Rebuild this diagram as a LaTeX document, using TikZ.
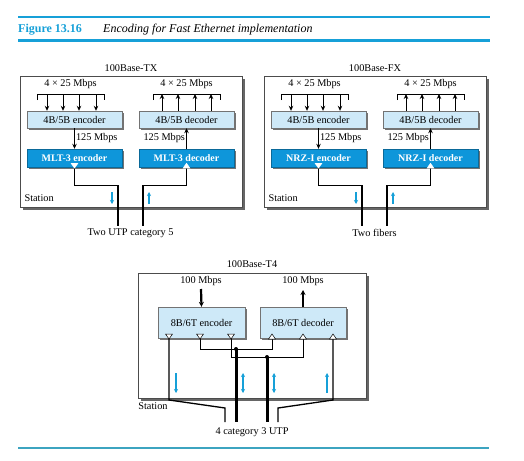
\documentclass[tikz,border=0pt]{standalone}
\usepackage{fontspec}
\setmainfont{Liberation Serif}
\usetikzlibrary{arrows.meta,shadows}
\definecolor{figblue}{RGB}{22,160,216}
\definecolor{boxlight}{RGB}{206,233,248}
\definecolor{boxdark}{RGB}{14,150,218}
\definecolor{ruleteal}{RGB}{60,164,192}
\tikzset{
	station/.style={draw=black!70, fill=white, line width=.6pt, minimum width=222pt, minimum height=131pt,
		drop shadow={shadow xshift=2.5pt, shadow yshift=-2.5pt, fill=black!60, opacity=1}},
	lightbox/.style={draw=black!55, fill=boxlight, line width=.4pt, minimum width=95pt, minimum height=17pt, inner sep=1pt,
		drop shadow={shadow xshift=1.5pt, shadow yshift=-1.5pt, fill=black!55, opacity=1}},
	darkbox/.style={lightbox, fill=boxdark, draw=boxdark!70!black, text=white, font=\bfseries, minimum height=18pt},
	arr/.style={line width=1pt, -{Stealth[length=5pt,width=4.5pt]}},
	thickarr/.style={line width=2.2pt, -{Stealth[length=5pt,width=5pt]}},
	bluearr/.style={figblue, line width=1.5pt, -{Stealth[length=4pt,width=4pt]}},
	bluedbl/.style={figblue, line width=1.5pt, {Stealth[length=4pt,width=4pt]}-{Stealth[length=4pt,width=4pt]}},
	wire/.style={line width=1.3pt},
	thinwire/.style={line width=.7pt},
	thickwire/.style={line width=3pt},
	tridown/.pic={\path[pic actions, fill=white] (-3.5,-4) -- (3.5,-4) -- (0,1) -- cycle;},
	triup/.pic={\path[pic actions, fill=white] (-3.5,1) -- (3.5,1) -- (0,-4) -- cycle;}
}
\begin{document}
\begin{tikzpicture}[x=1pt, y=-1pt, font=\fontsize{10.3}{12}\selectfont]
	\useasboundingbox (0,0) rectangle (524,460);
	%Caption and rules
	\draw[figblue, line width=1.5pt] (18,17) -- (490,17);
	\node[anchor=base west, inner sep=0pt, text=figblue, font=\fontsize{12}{14}\selectfont\bfseries] (fignum) at (18,33) {Figure 13.16};
	\node[anchor=base west, inner sep=0pt, font=\fontsize{12}{14}\selectfont\itshape] (figtitle) at (103,33) {Encoding for Fast Ethernet implementation};
	\draw[figblue, line width=3pt] (18,41) -- (490,41);
	\draw[ruleteal, line width=2.5pt] (18,448) -- (489,448);
	%100Base-TX and 100Base-FX
	\foreach \dx/\tag/\code/\cable in {0/TX/MLT-3/Two UTP category 5, 244/FX/NRZ-I/Two fibers}
	{
	\begin{scope}[xshift=\dx]
		\node[station] (st\tag) at (131,141.5) {};
		\node (title\tag) at (131,68) {100Base-\tag};
		\node[anchor=west] (lab\tag) at (21,198) {Station};
		\node[lightbox] (enc\tag) at (74.5,119.5) {4B/5B encoder};
		\node[darkbox] (lineenc\tag) at (74.5,158) {\code{} encoder};
		\node[lightbox] (dec\tag) at (186.5,119.5) {4B/5B decoder};
		\node[darkbox] (linedec\tag) at (186.5,158) {\code{} decoder};
		\draw[arr] (enc\tag) -- node[right, inner sep=1pt] {125 Mbps} (lineenc\tag);
		\draw[arr] (linedec\tag) -- node[left, inner sep=1pt] {125 Mbps} (dec\tag);
		%parallel inputs and outputs
		\node (inrate\tag) at (70.5,84) {4 × 25 Mbps};
		\node (outrate\tag) at (186.5,84) {4 × 25 Mbps};
		\draw[line width=.5pt] (37,100) -- (37,94) -- (104,94) -- (104,100);
		\draw[line width=.5pt] (153,100) -- (153,94) -- (220,94) -- (220,100);
		\foreach \x in {47,63,79,96}
		{\draw[arr] (\x,94) -- (\x,94 |- enc\tag.north);}
		\foreach \x in {162,178,195,211}
		{\draw[arr] (\x,94 |- dec\tag.north) -- (\x,94);}
		%cables
		\coordinate (cout\tag) at (118,226);
		\coordinate (cin\tag) at (143,226);
		\draw[wire] (lineenc\tag.south) -- ++(0,18) -| (cout\tag);
		\draw[wire] (linedec\tag.south) -- ++(0,18) -| (cin\tag);
		\pic[draw=white] at (lineenc\tag.south) {tridown};
		\pic[draw=white] at (linedec\tag.south) {triup};
		\draw[bluearr] (112,192) -- (112,204);
		\draw[bluearr] (149,204) -- (149,192);
		\node (cable\tag) at (130.5,233) {\cable};
	\end{scope}
	}
	%100Base-T4
	\node[station, minimum width=228pt, minimum height=125pt] (stT4) at (252,335.5) {};
	\node (titleT4) at (252,264) {100Base-T4};
	\node[lightbox, minimum width=87pt, minimum height=31pt] (encT4) at (201.5,322.5) {8B/6T encoder};
	\node[lightbox, minimum width=86pt, minimum height=31pt] (decT4) at (303,322.5) {8B/6T decoder};
	\node (inT4) at (201,281) {100 Mbps};
	\node (outT4) at (303,281) {100 Mbps};
	\draw[thickarr] (201,289) -- (encT4.north);
	\draw[thickarr] (decT4.north) -- (303,290);
	\foreach \i/\x in {1/169,2/200,3/231}
	{\coordinate (e\i) at (\x,338);}
	\foreach \i/\x in {1/272,2/303,3/333}
	{\coordinate (d\i) at (\x,338);}
	\coordinate (c1) at (225,422);
	\coordinate (c2) at (236,422);
	\coordinate (c3) at (267,422);
	\coordinate (c4) at (278,422);
	\draw[wire] (e1) -- (169,400) -- (225,408) -- (c1);
	\draw[wire] (d3) -- (333,400) -- (278,408) -- (c4);
	\draw[thinwire] (e2) -- (200,349) -| (d1);
	\draw[thinwire] (e3) -- (231,357) -| (d2);
	\draw[thickwire] (236,349) -- (c2);
	\draw[thickwire] (267,357) -- (c3);
	\fill (236,349) circle (2);
	\fill (267,357) circle (2);
	\foreach \i in {1,2,3}
	{\pic[draw=black, line width=.5pt] at (e\i) {tridown};
		\pic[draw=black, line width=.5pt] at (d\i) {triup};}
	\draw[bluearr] (176,373) -- (176,393);
	\draw[bluedbl] (243,373) -- (243,393);
	\draw[bluedbl] (274,373) -- (274,393);
	\draw[bluearr, line width=2.5pt] (327,393) -- (327,373);
	\node (labT4) at (153,406) {Station};
	\node (cableT4) at (252,432) {4 category 3 UTP};
\end{tikzpicture}
\end{document}
